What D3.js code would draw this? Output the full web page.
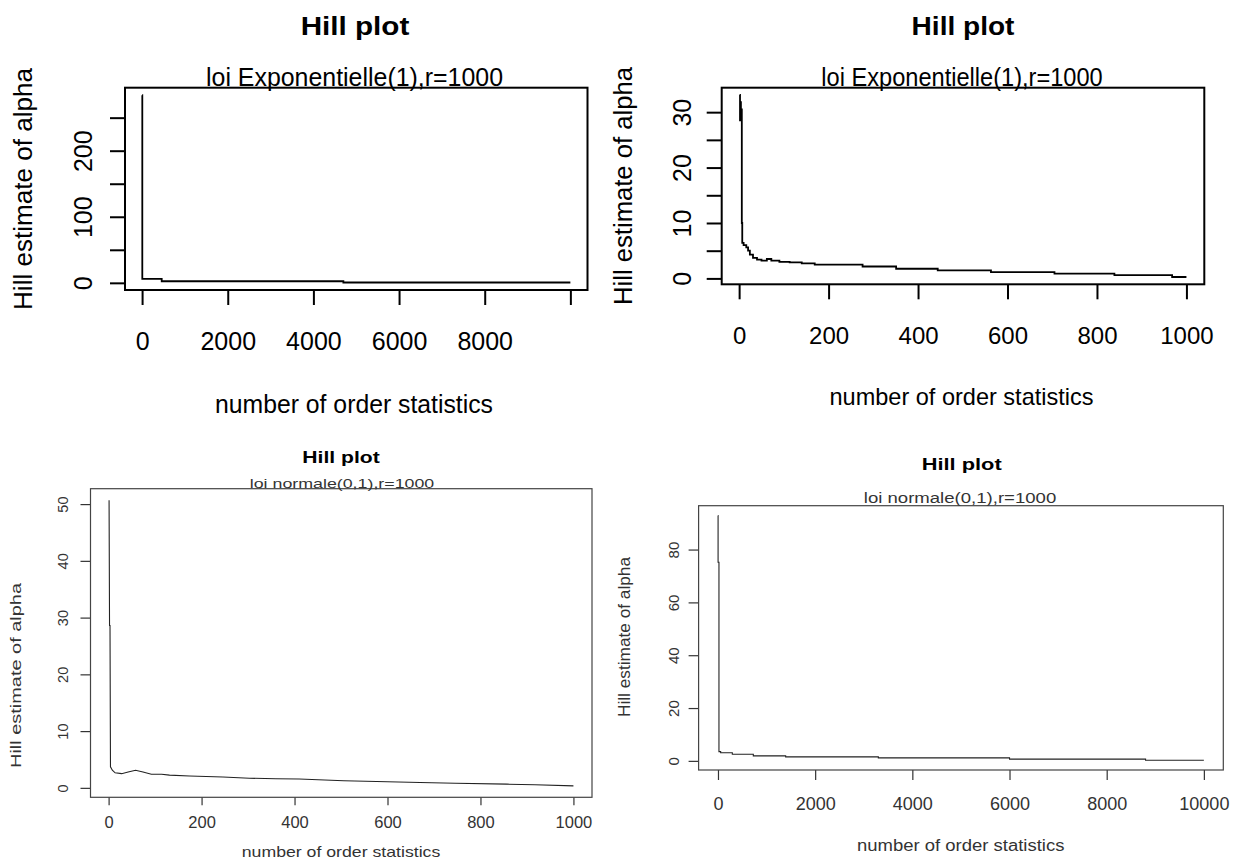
<!DOCTYPE html>
<html>
<head>
<meta charset="utf-8">
<script src="https://cdn.jsdelivr.net/npm/d3@7"></script>
<style>
  body { margin: 0; background: #fff; }
  svg { display: block; }
  text { font-family: "Liberation Sans", Arial, sans-serif; }
</style>
</head>
<body>
<svg id="chart" width="1239" height="860"></svg>
<script>
// Hill estimates of alpha against the number of order statistics k.
// Exponential(1) sample, n = 10000
const expLargeK     = [1, 5, 458, 4700, 10000];
const expLargeAlpha = [284, 6.0, 2.4, 0.5, 0.5];

// Exponential(1) sample, n = 1000
const expSmallK     = [1, 2, 3, 4, 5, 6, 7, 10, 16, 20, 24, 31, 40, 50, 62, 72, 90, 113, 140, 169, 276, 351, 444, 563, 705, 839, 968, 1000];
const expSmallAlpha = [33.1, 28.5, 31.8, 29.5, 30.5, 10.0, 6.4, 6.0, 5.6, 5.0, 4.3, 3.7, 3.4, 3.2, 3.5, 3.2, 3.0, 2.9, 2.7, 2.5, 2.15, 1.74, 1.45, 1.15, 0.85, 0.6, 0.25, 0.25];

// Normal(0,1) sample, n = 1000
const normSmallK     = [1, 2, 3, 4, 8, 14, 28, 42, 58, 74, 92, 114, 131, 174, 246, 303, 360, 410, 506, 670, 746, 857, 917, 1000];
const normSmallAlpha = [50.7, 28.6, 28.6, 3.7, 3.1, 2.65, 2.5, 2.8, 3.1, 2.8, 2.4, 2.4, 2.25, 2.1, 1.9, 1.7, 1.6, 1.55, 1.25, 0.95, 0.8, 0.65, 0.55, 0.35];

// Normal(0,1) sample, n = 10000
const normLargeK     = [1, 2, 20, 55, 295, 727, 1393, 3300, 6000, 8800, 10000];
const normLargeAlpha = [92.9, 75.2, 3.5, 3.1, 2.5, 1.9, 1.5, 1.14, 0.65, 0.25, 0.25];

// Axis ticks and their labels
const ticksK10000   = [0, 2000, 4000, 6000, 8000, 10000];
const labelsK10000a = ["0", "2000", "4000", "6000", "8000", ""];
const labelsK10000b = ["0", "2000", "4000", "6000", "8000", "10000"];
const ticksK1000    = [0, 200, 400, 600, 800, 1000];
const labelsK1000   = ["0", "200", "400", "600", "800", "1000"];
const ticksA250     = [0, 50, 100, 150, 200, 250];
const labelsA250    = ["0", "", "100", "", "200", ""];
const ticksA30      = [0, 5, 10, 15, 20, 25, 30];
const labelsA30     = ["0", "", "10", "", "20", "", "30"];
const ticksA50      = [0, 10, 20, 30, 40, 50];
const labelsA50     = ["0", "10", "20", "30", "40", "50"];
const ticksA80      = [0, 20, 40, 60, 80];
const labelsA80     = ["0", "20", "40", "60", "80"];

// Texts
const mainTitle  = "Hill plot";
const subExp     = "loi Exponentielle(1),r=1000";
const subNorm    = "loi normale(0,1),r=1000";
const xTitleText = "number of order statistics";
const yTitleText = "Hill estimate of alpha";

const svg = d3.select("#chart");

// Layout and styling of each of the four plots
const panels = [
  {
    k: expLargeK, alpha: expLargeAlpha, curve: d3.curveStepAfter, sub: subExp,
    box: { x0: 125, x1: 587.5, y0: 87.7, y1: 290 },
    xTicks: ticksK10000, xLabels: labelsK10000a, yTicks: ticksA250, yLabels: labelsA250,
    ink: "#000", frameW: 2, lineW: 1.8, tickLen: 15, xTickLen: 15,
    xTickFont: 25, xTickBase: 59.5, yTickFont: 25, yTickOff: 33.3,
    title: { cx: 355, base: 35, size: 26, len: 108.7 },
    subT:  { cx: 354.5, base: 86, size: 25, len: 297 },
    xT:    { cx: 354, base: 413, size: 25, len: 278 },
    yT:    { bx: 31.7, cy: 189, size: 25, len: 242 }
  },
  {
    k: expSmallK, alpha: expSmallAlpha, curve: d3.curveStepAfter, sub: subExp,
    box: { x0: 721.7, x1: 1204.3, y0: 87.7, y1: 284.3 },
    xTicks: ticksK1000, xLabels: labelsK1000, yTicks: ticksA30, yLabels: labelsA30,
    ink: "#000", frameW: 2, lineW: 1.8, tickLen: 15, xTickLen: 15,
    xTickFont: 24, xTickBase: 59.7, yTickFont: 25, yTickOff: 30.7,
    title: { cx: 963, base: 35, size: 26, len: 102.8 },
    subT:  { cx: 962, base: 86, size: 25, len: 281.4 },
    xT:    { cx: 961.5, base: 405, size: 24, len: 264 },
    yT:    { bx: 632, cy: 186, size: 25, len: 238 }
  },
  {
    k: normSmallK, alpha: normSmallAlpha, curve: d3.curveLinear, sub: subNorm,
    box: { x0: 90.5, x1: 592, y0: 488.7, y1: 797.3 },
    xTicks: ticksK1000, xLabels: labelsK1000, yTicks: ticksA50, yLabels: labelsA50,
    ink: "#333", frameW: 1.2, lineW: 1.1, tickLen: 10, xTickLen: 8,
    xTickFont: 16.5, xTickBase: 31, yTickFont: 14.5, yTickOff: 22.4,
    title: { cx: 341, base: 463, size: 16, len: 77.4 },
    subT:  { cx: 342, base: 487.5, size: 13, len: 184.5 },
    xT:    { cx: 341, base: 857, size: 14.5, len: 198.5 },
    yT:    { bx: 21, cy: 675.5, size: 14, len: 185 }
  },
  {
    k: normLargeK, alpha: normLargeAlpha, curve: d3.curveStepAfter, sub: subNorm,
    box: { x0: 698.6, x1: 1223.3, y0: 505.7, y1: 770 },
    xTicks: ticksK10000, xLabels: labelsK10000b, yTicks: ticksA80, yLabels: labelsA80,
    ink: "#333", frameW: 1.2, lineW: 1.1, tickLen: 10, xTickLen: 10,
    xTickFont: 18, xTickBase: 40, yTickFont: 15, yTickOff: 19.5,
    title: { cx: 961.7, base: 470, size: 17, len: 80 },
    subT:  { cx: 960, base: 502.7, size: 14, len: 192.5 },
    xT:    { cx: 960.7, base: 850.7, size: 16, len: 207.5 },
    yT:    { bx: 630, cy: 637, size: 16, len: 160 }
  }
];

// Domain widened by 4% on each side, like R's default axis range
function padded(values) {
  const [lo, hi] = d3.extent(values);
  const d = (hi - lo) * 0.04;
  return [lo - d, hi + d];
}

function fittedText(g, txt, spec, opts) {
  const t = g.append("text")
    .text(txt)
    .attr("font-size", spec.size)
    .attr("font-weight", opts.bold ? "bold" : "normal")
    .attr("fill", opts.fill)
    .attr("text-anchor", "middle")
    .attr("textLength", spec.len)
    .attr("lengthAdjust", "spacingAndGlyphs");
  if (opts.rotate) {
    t.attr("transform", `translate(${spec.bx},${spec.cy}) rotate(-90)`);
  } else {
    t.attr("x", spec.cx).attr("y", spec.base);
  }
  return t;
}

panels.forEach(p => {
  const g = svg.append("g");
  const b = p.box;

  const x = d3.scaleLinear().domain(padded(p.k)).range([b.x0, b.x1]);
  const y = d3.scaleLinear().domain(padded(p.alpha)).range([b.y1, b.y0]);

  // bottom axis
  const xa = g.append("g")
    .attr("transform", `translate(0,${b.y1})`)
    .call(d3.axisBottom(x)
      .tickValues(p.xTicks)
      .tickFormat((d, i) => p.xLabels[i])
      .tickSize(p.xTickLen)
      .tickSizeOuter(0));
  xa.select(".domain").remove();
  xa.selectAll(".tick line").attr("stroke", p.ink).attr("stroke-width", p.frameW);
  xa.selectAll(".tick text")
    .attr("y", p.xTickBase).attr("dy", 0)
    .attr("font-size", p.xTickFont)
    .attr("font-family", null)
    .attr("fill", p.ink);
  xa.attr("font-family", null).attr("font-size", null);

  // left axis with labels written along the axis
  const ya = g.append("g")
    .attr("transform", `translate(${b.x0},0)`)
    .call(d3.axisLeft(y)
      .tickValues(p.yTicks)
      .tickFormat((d, i) => p.yLabels[i])
      .tickSize(p.tickLen)
      .tickSizeOuter(0));
  ya.select(".domain").remove();
  ya.selectAll(".tick line").attr("stroke", p.ink).attr("stroke-width", p.frameW);
  ya.selectAll(".tick text")
    .attr("x", 0).attr("dy", 0)
    .attr("text-anchor", "middle")
    .attr("transform", `translate(${-p.yTickOff},0) rotate(-90)`)
    .attr("font-size", p.yTickFont)
    .attr("fill", p.ink);
  ya.attr("font-family", null).attr("font-size", null);

  // the Hill curve
  const line = d3.line()
    .x(d => x(d[0]))
    .y(d => y(d[1]))
    .curve(p.curve);
  g.append("path")
    .datum(d3.zip(p.k, p.alpha))
    .attr("d", line)
    .attr("fill", "none")
    .attr("stroke", p.ink === "#000" ? "#000" : "#222")
    .attr("stroke-width", p.lineW)
    .attr("stroke-linejoin", "miter");

  // plot frame
  g.append("rect")
    .attr("x", b.x0).attr("y", b.y0)
    .attr("width", b.x1 - b.x0).attr("height", b.y1 - b.y0)
    .attr("fill", "none")
    .attr("stroke", p.ink === "#000" ? "#000" : "#444")
    .attr("stroke-width", p.frameW);

  // titles
  fittedText(g, mainTitle, p.title, { bold: true, fill: "#000" });
  fittedText(g, p.sub, p.subT, { fill: p.ink });
  fittedText(g, xTitleText, p.xT, { fill: p.ink });
  fittedText(g, yTitleText, p.yT, { fill: p.ink, rotate: true });
});
</script>
</body>
</html>
